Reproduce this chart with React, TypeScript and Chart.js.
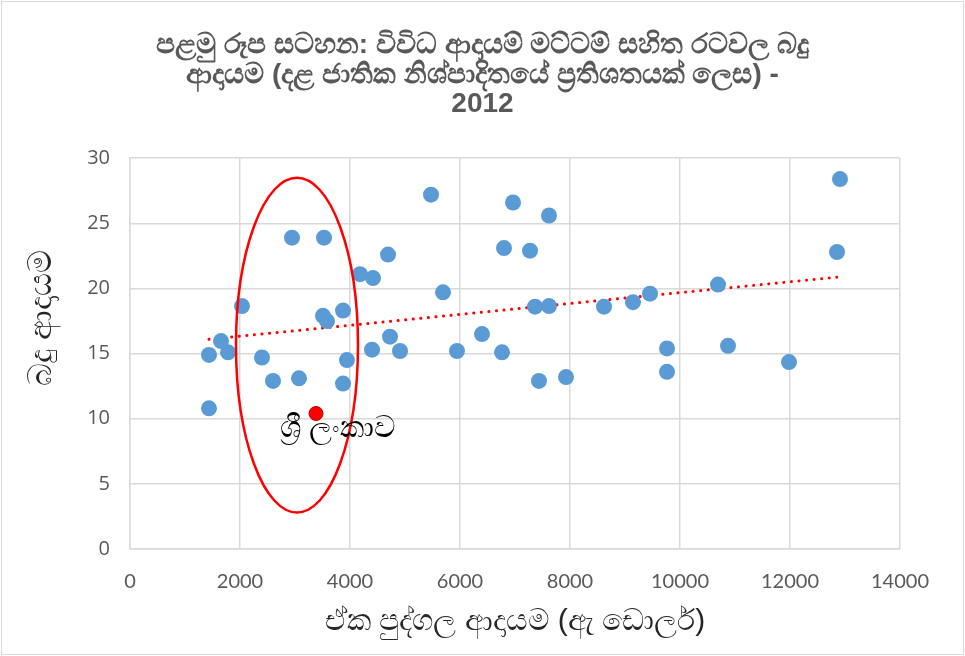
import React, { useEffect, useRef } from "react";
import { Chart, registerables } from "chart.js";

Chart.register(...registerables);

const titleLines = [
  "පළමු රූප සටහන: විවිධ ආදායම් මට්ටම් සහිත රටවල බදු",
  "ආදායම (දළ ජාතික නිශ්පාදිතයේ ප්‍රතිශතයක් ලෙස) -",
  "2012",
];
const xAxisTitle = "ඒක පුද්ගල ආදායම (ඇ ඩොලර්)";
const yAxisTitle = "බදු ආදායම";
const highlightLabel = "ශ්‍රී ලංකාව";

// Countries (per-capita income USD, tax revenue % of GDP)
const incomeValues = [
  1436, 1436, 1655, 1782, 2036, 2400, 2600, 2945, 3073, 3527, 3509, 3582, 3873,
  3945, 3873, 4182, 4418, 4691, 4727, 4400, 4909, 5473, 5691, 5945, 6400, 6764,
  6800, 6964, 7273, 7364, 7436, 7618, 7618, 7927, 8618, 9145, 9455, 9764, 9764,
  10691, 10873, 11982, 12855, 12909,
];
const taxValues = [
  14.9, 10.8, 15.96, 15.1, 18.65, 14.7, 12.9, 23.9, 13.1, 23.9, 17.9, 17.5, 18.3,
  14.5, 12.7, 21.1, 20.8, 22.6, 16.3, 15.3, 15.2, 27.2, 19.7, 15.2, 16.5, 15.1,
  23.1, 26.6, 22.9, 18.6, 12.9, 25.6, 18.65, 13.2, 18.6, 18.95, 19.6, 15.4, 13.6,
  20.3, 15.6, 14.35, 22.8, 28.4,
];
const sriLankaIncome = [3382];
const sriLankaTax = [10.4];

// Highlight ellipse in data units: [centerX, centerY, radiusX, radiusY]
const ellipseSpec = [3036, 15.65, 1109, 12.85];

const xTicks = { min: 0, max: 14000, step: 2000 };
const yTicks = { min: 0, max: 30, step: 5 };

const SANS = '"Liberation Sans", Arial, "Noto Sans", sans-serif';
const TICKX = 'Lato, "Noto Sans", sans-serif';
const TICKY = '"Open Sans", "Noto Sans", sans-serif';

function trendPoints() {
  const xs = incomeValues.concat(sriLankaIncome);
  const ys = taxValues.concat(sriLankaTax);
  const n = xs.length;
  let sx = 0, sy = 0, sxx = 0, sxy = 0;
  for (let i = 0; i < n; i++) {
    sx += xs[i]; sy += ys[i]; sxx += xs[i] * xs[i]; sxy += xs[i] * ys[i];
  }
  const slope = (n * sxy - sx * sy) / (n * sxx - sx * sx);
  const icpt = (sy - slope * sx) / n;
  const x0 = Math.min(...xs);
  const x1 = Math.max(...xs);
  return [
    { x: x0, y: icpt + slope * x0 },
    { x: x1, y: icpt + slope * x1 },
  ];
}

const decorPlugin = {
  id: "decor",
  beforeDraw(chart: any) {
    const { ctx, width, height } = chart;
    ctx.save();
    ctx.fillStyle = "#ffffff";
    ctx.fillRect(0, 0, width, height);
    ctx.strokeStyle = "#d9d9d9";
    ctx.lineWidth = 1;
    ctx.strokeRect(1.5, 1.5, width - 3, height - 3);
    ctx.restore();
  },
  afterDraw(chart: any) {
    const { ctx } = chart;
    ctx.save();
    ctx.translate(42, 318);
    ctx.rotate(-Math.PI / 2);
    ctx.fillStyle = "#262626";
    ctx.font = `32px ${SANS}`;
    ctx.textAlign = "center";
    ctx.textBaseline = "middle";
    ctx.fillText(yAxisTitle, 0, 0);
    ctx.restore();
  },
  afterDatasetsDraw(chart: any) {
    const { ctx } = chart;
    const xs = chart.scales.x;
    const ys = chart.scales.y;
    const [cx, cy, rx, ry] = ellipseSpec;
    const pcx = xs.getPixelForValue(cx);
    const pcy = ys.getPixelForValue(cy);
    const prx = Math.abs(xs.getPixelForValue(cx + rx) - pcx);
    const pry = Math.abs(ys.getPixelForValue(cy + ry) - pcy);
    ctx.save();
    ctx.beginPath();
    ctx.ellipse(pcx, pcy, prx, pry, 0, 0, Math.PI * 2);
    ctx.strokeStyle = "#ff0000";
    ctx.lineWidth = 2.5;
    ctx.stroke();
    const px = xs.getPixelForValue(sriLankaIncome[0]);
    const py = ys.getPixelForValue(sriLankaTax[0]);
    ctx.fillStyle = "#000000";
    ctx.font = `30px ${SANS}`;
    ctx.textAlign = "center";
    ctx.textBaseline = "middle";
    ctx.fillText(highlightLabel, px + 22, py + 15);
    ctx.restore();
  },
};

export default function App() {
  const ref = useRef<HTMLCanvasElement | null>(null);
  useEffect(() => {
    if (!ref.current) return;
    const chart = new Chart(ref.current, {
      type: "scatter",
      data: {
        datasets: [
          {
            type: "line" as any,
            label: "trend",
            data: trendPoints(),
            borderColor: "#ff0000",
            borderWidth: 3,
            borderDash: [0.1, 7.5],
            borderCapStyle: "round",
            pointRadius: 0,
            fill: false,
            order: 3,
          } as any,
          {
            label: "countries",
            data: incomeValues.map((x, i) => ({ x, y: taxValues[i] })),
            backgroundColor: "#5b9bd5",
            borderColor: "#5b9bd5",
            borderWidth: 0,
            pointRadius: 8,
            order: 2,
          },
          {
            label: "sri lanka",
            data: sriLankaIncome.map((x, i) => ({ x, y: sriLankaTax[i] })),
            backgroundColor: "#ff0000",
            borderColor: "#c00000",
            borderWidth: 1,
            pointRadius: 7,
            order: 1,
          },
        ],
      },
      options: {
        animation: false,
        responsive: false,
        devicePixelRatio: 1,
        layout: { padding: 0 },
        plugins: {
          legend: { display: false },
          tooltip: { enabled: false },
          title: {
            display: true,
            text: titleLines,
            color: "#595959",
            font: { family: SANS, size: 28, weight: "bold", lineHeight: 1.05 },
            padding: { top: 31, bottom: 39 },
          },
        },
        scales: {
          x: {
            type: "linear",
            min: xTicks.min,
            max: xTicks.max,
            ticks: {
              stepSize: xTicks.step,
              color: "#595959",
              font: { family: TICKX, size: 20 },
              padding: 21,
              maxRotation: 0,
              callback: (v: any) => String(v),
            },
            grid: { color: "#d9d9d9", lineWidth: 1.5, drawTicks: false },
            border: { color: "#d9d9d9", width: 1.5 },
            title: {
              display: true,
              text: xAxisTitle,
              color: "#262626",
              font: { family: SANS, size: 30 },
              padding: { top: 0, bottom: 16 },
            },
            afterFit(scale: any) {
              scale.height = 107;
            },
          },
          y: {
            type: "linear",
            min: yTicks.min,
            max: yTicks.max,
            ticks: {
              stepSize: yTicks.step,
              color: "#595959",
              font: { family: TICKY, size: 20 },
              padding: 20,
            },
            grid: { color: "#d9d9d9", lineWidth: 1.5, drawTicks: false },
            border: { color: "#d9d9d9", width: 1.5 },
            title: { display: false },
            afterFit(scale: any) {
              scale.width = 130;
            },
          },
          yRightSpace: {
            type: "linear",
            position: "right",
            display: true,
            min: yTicks.min,
            max: yTicks.max,
            ticks: { display: false },
            grid: { display: false, drawTicks: false },
            border: { display: false },
            title: { display: false },
            afterFit(scale: any) {
              scale.width = 65;
            },
          },
        },
      },
      plugins: [decorPlugin],
    } as any);
    return () => chart.destroy();
  }, []);
  return (
    <div style={{ position: "fixed", left: 0, top: 0, width: 965, height: 656, background: "#fff" }}>
      <canvas ref={ref} width={965} height={656} style={{ display: "block" }} />
    </div>
  );
}
